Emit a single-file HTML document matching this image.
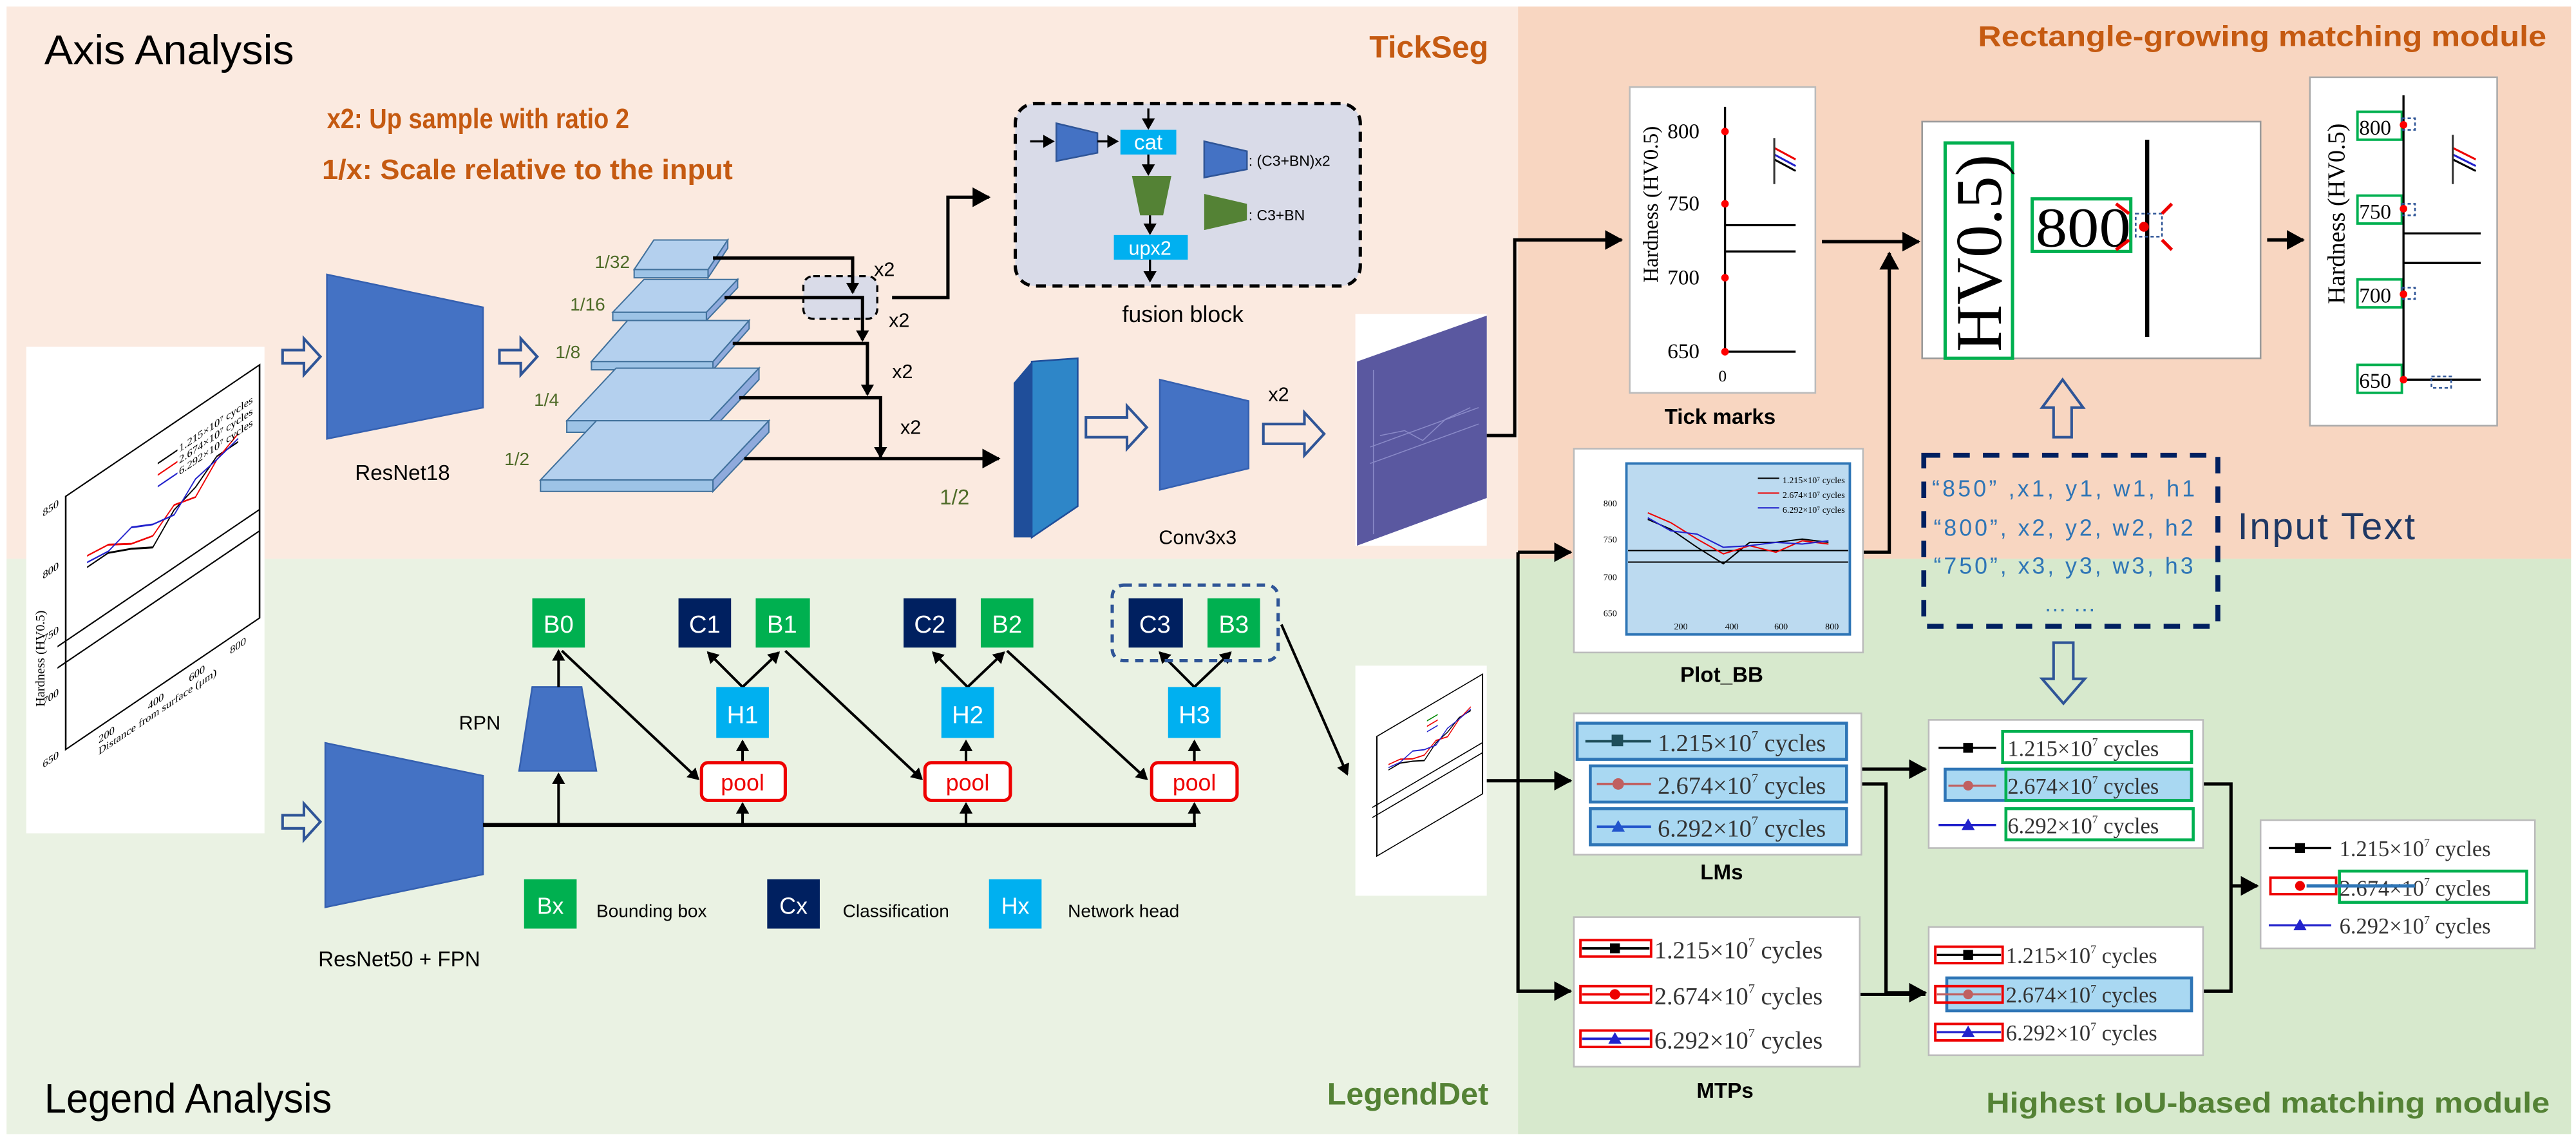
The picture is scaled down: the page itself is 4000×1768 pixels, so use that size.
<!DOCTYPE html>
<html><head><meta charset="utf-8"><style>
html,body{margin:0;padding:0;background:#fff}
svg{display:block}
.t{font-family:"Liberation Sans Narrow","Liberation Sans",sans-serif}
.s{font-family:"Liberation Serif",serif}
.b{font-family:"Liberation Sans",sans-serif;font-weight:bold}
</style></head><body>
<svg width="4000" height="1768" viewBox="0 0 1568 693" preserveAspectRatio="none" xmlns="http://www.w3.org/2000/svg">
<defs>
<marker id="a" markerWidth="8" markerHeight="8" refX="6" refY="4" orient="auto" markerUnits="userSpaceOnUse"><path d="M0,0 L7,4 L0,8 z" fill="#000"/></marker>
<marker id="a2" markerWidth="12" markerHeight="12" refX="10" refY="6" orient="auto" markerUnits="userSpaceOnUse"><path d="M0,0 L11,6 L0,12 z" fill="#000"/></marker>
</defs>
<rect x="0" y="0" width="1568" height="693" fill="#fff"/>
<rect x="4" y="4" width="920" height="336" fill="#fbeae0"/>
<rect x="4" y="340" width="920" height="350" fill="#eaf2e3"/>
<rect x="924" y="4" width="641" height="336" fill="#f8d6c1"/>
<rect x="924" y="340" width="641" height="350" fill="#d7e9cd"/>

<text x="27" y="39" class="t" font-size="25" fill="#000" textLength="152" lengthAdjust="spacingAndGlyphs">Axis Analysis</text>
<text x="906" y="35" class="t" font-size="19" font-weight="bold" fill="#c55a11" text-anchor="end">TickSeg</text>
<text x="199" y="78" class="t" font-size="17" font-weight="bold" fill="#c55a11" textLength="184" lengthAdjust="spacingAndGlyphs">x2:  Up sample with ratio 2</text>
<text x="196" y="109" class="t" font-size="17" font-weight="bold" fill="#c55a11" textLength="250" lengthAdjust="spacingAndGlyphs">1/x:  Scale relative to the input</text>
<text x="27" y="677" class="t" font-size="25" fill="#000" textLength="175" lengthAdjust="spacingAndGlyphs">Legend Analysis</text>
<text x="906" y="672" class="t" font-size="19" font-weight="bold" fill="#548235" text-anchor="end">LegendDet</text>
<text x="1204" y="28" class="b" font-size="17.5" fill="#c55a11" textLength="346" lengthAdjust="spacingAndGlyphs">Rectangle-growing matching module</text>
<text x="1209" y="677" class="b" font-size="17.5" fill="#548235" textLength="343" lengthAdjust="spacingAndGlyphs">Highest IoU-based matching module</text>

<!-- input chart -->
<rect x="16" y="211" width="145" height="296" fill="#fff"/>
<g transform="translate(40,302) matrix(1,-0.678,0,1,0,0)" fill="none" stroke="#000" stroke-width="1">
<rect x="0" y="0" width="118" height="154"/>
<line x1="-5" y1="88" x2="118" y2="88"/>
<line x1="-5" y1="101" x2="118" y2="101"/>
<polyline points="13,52 26,52 40,59 53,67 66,53 79,48 92,38 105,38" stroke="#000"/>
<polyline points="13,45 26,47 40,56 53,60 66,50 79,54 92,40 105,33" stroke="#e00"/>
<polyline points="13,49 26,51 40,46 53,53 66,56 79,43 92,40 105,36" stroke="#22c"/>
<line x1="56" y1="18" x2="68" y2="18"/><line x1="56" y1="25" x2="68" y2="25" stroke="#e00"/><line x1="56" y1="32" x2="68" y2="32" stroke="#22c"/>
<g stroke="none" fill="#000" class="s" font-size="6.5"><text x="69" y="20">1.215×10⁷ cycles</text><text x="69" y="27">2.674×10⁷ cycles</text><text x="69" y="34">6.292×10⁷ cycles</text>
<text x="-14" y="3">850</text><text x="-14" y="41">800</text><text x="-14" y="80">750</text><text x="-14" y="118">700</text><text x="-14" y="156">650</text>
<text x="20" y="164">200</text><text x="50" y="164">400</text><text x="75" y="164">600</text><text x="100" y="164">800</text>
<text x="20" y="171">Distance from surface (μm)</text></g>
</g>
<text transform="translate(27,430) rotate(-90)" class="s" font-size="8" fill="#000">Hardness (HV0.5)</text>

<g fill="none" stroke="#2f5597" stroke-width="1.6">
<path d="M172,213 h13 v-7 l10,11 l-10,11 v-7 h-13 z"/>
<path d="M304,213 h13 v-7 l10,11 l-10,11 v-7 h-13 z"/>
<path d="M661,254 h25 v-7 l12,13 l-12,13 v-7 h-25 z"/>
<path d="M769,258 h25 v-7 l12,13 l-12,13 v-7 h-25 z"/>
<path d="M172,496 h13 v-7 l10,11 l-10,11 v-7 h-13 z"/>
<path d="M1250,266 v-18 h-7 l12.5,-17 l12.5,17 h-7 v18 z"/>
<path d="M1250,391 v22 h-7 l13,15 l13,-15 h-7 v-22 z"/>
</g>

<polygon points="199,167 294,187 294,248 199,267" fill="#4472c4" stroke="#3560b0"/>
<text x="245" y="292" class="t" font-size="13" text-anchor="middle">ResNet18</text>

<g stroke="#41719c" stroke-width="0.8">
<polygon points="386,164 431,164 443,146 398,146" fill="#b4d0ee"/><rect x="386" y="164" width="45" height="5" fill="#9dc3e6"/><polygon points="431,169 431,164 443,146 443,151" fill="#8faadc"/>
<polygon points="373,190 430,190 449,170 392,170" fill="#b4d0ee"/><rect x="373" y="190" width="57" height="5" fill="#9dc3e6"/><polygon points="430,195 430,190 449,170 449,175" fill="#8faadc"/>
<polygon points="360,220 434,220 456,195 382,195" fill="#b4d0ee"/><rect x="360" y="220" width="74" height="5" fill="#9dc3e6"/><polygon points="434,225 434,220 456,195 456,200" fill="#8faadc"/>
<polygon points="345,256 432,256 462,224 375,224" fill="#b4d0ee"/><rect x="345" y="256" width="87" height="7" fill="#9dc3e6"/><polygon points="432,263 432,256 462,224 462,231" fill="#8faadc"/>
<polygon points="329,292 434,292 468,256 363,256" fill="#b4d0ee"/><rect x="329" y="292" width="105" height="7" fill="#9dc3e6"/><polygon points="434,299 434,292 468,256 468,263" fill="#8faadc"/>
</g>
<g class="t" font-size="11" fill="#4e6b28">
<text x="362" y="163">1/32</text><text x="347" y="189">1/16</text><text x="338" y="218">1/8</text><text x="325" y="247">1/4</text><text x="307" y="283">1/2</text>
<text x="572" y="307" font-size="13">1/2</text></g>

<rect x="489" y="168" width="45" height="26" rx="6" fill="#d9dbe8" stroke="#000" stroke-width="1.3" stroke-dasharray="4,3"/>
<g stroke="#000" stroke-width="2" fill="none">
<polyline points="434,157 519,157 519,178" marker-end="url(#a)"/>
<polyline points="441,181 525,181 525,207" marker-end="url(#a)"/>
<polyline points="446,209 528,209 528,240" marker-end="url(#a)"/>
<polyline points="450,242 536,242 536,278" marker-end="url(#a)"/>
<polyline points="453,279 608,279" marker-end="url(#a2)"/>
<polyline points="543,181 577,181 577,120 602,120" marker-end="url(#a2)"/>
</g>
<g class="t" font-size="12"><text x="532" y="168">x2</text><text x="541" y="199">x2</text><text x="543" y="230">x2</text><text x="548" y="264">x2</text><text x="772" y="244">x2</text></g>

<rect x="618" y="63" width="210" height="111" rx="12" fill="#d9dbe8" stroke="#000" stroke-width="2" stroke-dasharray="6,4"/>
<polygon points="643,75 668,81 668,93 643,98" fill="#4472c4" stroke="#2f5597"/>
<rect x="682" y="79" width="34" height="15" fill="#00b0f0"/>
<text x="699" y="91" class="t" font-size="13" fill="#fff" text-anchor="middle">cat</text>
<polygon points="689,107 713,107 708,131 694,131" fill="#548235"/>
<rect x="678" y="143" width="45" height="15" fill="#00b0f0"/>
<text x="700" y="155" class="t" font-size="12" fill="#fff" text-anchor="middle">upx2</text>
<polygon points="733,86 759,92 759,103 733,108" fill="#4472c4" stroke="#2f5597"/>
<polygon points="733,118 759,124 759,134 733,140" fill="#548235"/>
<text x="760" y="101" class="t" font-size="9">: (C3+BN)x2</text>
<text x="760" y="134" class="t" font-size="9">: C3+BN</text>
<g stroke="#000" stroke-width="1.3" fill="none">
<line x1="627" y1="86" x2="641" y2="86" marker-end="url(#a)"/>
<line x1="668" y1="86" x2="680" y2="86" marker-end="url(#a)"/>
<line x1="699" y1="66" x2="699" y2="78" marker-end="url(#a)"/>
<line x1="699" y1="94" x2="699" y2="106" marker-end="url(#a)"/>
<line x1="700" y1="131" x2="700" y2="142" marker-end="url(#a)"/>
<line x1="700" y1="158" x2="700" y2="171" marker-end="url(#a)"/>
</g>
<text x="720" y="196" class="t" font-size="14" text-anchor="middle">fusion block</text>

<polygon points="617,233 628,220 628,327 617,327" fill="#1f4e9a"/>
<polygon points="628,220 656,218 656,308 628,327" fill="#2e86c8" stroke="#1f4e9a"/>
<polygon points="706,231 760,244 760,285 706,298" fill="#4472c4" stroke="#3560b0"/>
<text x="729" y="331" class="t" font-size="12" text-anchor="middle">Conv3x3</text>

<rect x="825" y="191" width="80" height="141" fill="#fff"/>
<polygon points="826,220 905,192 905,303 826,332" fill="#5a58a0"/>
<g stroke="#8a8ac8" stroke-width="0.6" fill="none">
<line x1="834" y1="272" x2="900" y2="248"/><line x1="834" y1="282" x2="900" y2="258"/><polyline points="840,265 855,262 866,268 880,255 895,248"/>
<line x1="836" y1="225" x2="836" y2="325"/>
</g>
<polyline points="905,265 922,265 922,146 987,146" fill="none" stroke="#000" stroke-width="2" marker-end="url(#a2)"/>

<polygon points="198,452 294,472 294,532 198,552" fill="#4472c4" stroke="#3560b0"/>
<text x="243" y="588" class="t" font-size="13" text-anchor="middle">ResNet50 + FPN</text>
<polygon points="324,418 354,418 363,469 316,469" fill="#4472c4" stroke="#3560b0"/>
<text x="292" y="444" class="t" font-size="12" text-anchor="middle">RPN</text>
<g stroke="#000" stroke-width="1.6" fill="none">
<line x1="294" y1="502" x2="728" y2="502" stroke-width="2.6"/>
<line x1="340" y1="502" x2="340" y2="471" marker-end="url(#a)"/>
<line x1="452" y1="502" x2="452" y2="489" marker-end="url(#a)"/>
<line x1="588" y1="502" x2="588" y2="489" marker-end="url(#a)"/>
<line x1="727" y1="502" x2="727" y2="489" marker-end="url(#a)"/>
<line x1="340" y1="418" x2="340" y2="396" marker-end="url(#a)"/>
<line x1="452" y1="464" x2="452" y2="451" marker-end="url(#a)"/>
<line x1="588" y1="464" x2="588" y2="451" marker-end="url(#a)"/>
<line x1="727" y1="464" x2="727" y2="451" marker-end="url(#a)"/>
<line x1="342" y1="396" x2="425" y2="474" marker-end="url(#a)"/>
<line x1="478" y1="396" x2="561" y2="474" marker-end="url(#a)"/>
<line x1="613" y1="396" x2="698" y2="474" marker-end="url(#a)"/>
<line x1="452" y1="418" x2="431" y2="397" marker-end="url(#a)"/><line x1="452" y1="418" x2="474" y2="397" marker-end="url(#a)"/>
<line x1="589" y1="418" x2="568" y2="397" marker-end="url(#a)"/><line x1="589" y1="418" x2="611" y2="397" marker-end="url(#a)"/>
<line x1="727" y1="418" x2="706" y2="397" marker-end="url(#a)"/><line x1="727" y1="418" x2="749" y2="397" marker-end="url(#a)"/>
<line x1="780" y1="380" x2="820" y2="471" marker-end="url(#a)"/>
</g>
<rect x="677" y="356" width="101" height="46" rx="7" fill="none" stroke="#2f5597" stroke-width="2" stroke-dasharray="5,4"/>
<g class="t" font-size="15" text-anchor="middle" fill="#fff">
<rect x="324" y="364" width="32" height="30" fill="#00b050"/><text x="340" y="385">B0</text>
<rect x="413" y="364" width="32" height="30" fill="#002060"/><text x="429" y="385">C1</text>
<rect x="460" y="364" width="33" height="30" fill="#00b050"/><text x="476" y="385">B1</text>
<rect x="550" y="364" width="32" height="30" fill="#002060"/><text x="566" y="385">C2</text>
<rect x="597" y="364" width="32" height="30" fill="#00b050"/><text x="613" y="385">B2</text>
<rect x="687" y="364" width="33" height="30" fill="#002060"/><text x="703" y="385">C3</text>
<rect x="735" y="364" width="32" height="30" fill="#00b050"/><text x="751" y="385">B3</text>
<rect x="436" y="418" width="32" height="31" fill="#00b0f0"/><text x="452" y="440">H1</text>
<rect x="573" y="418" width="32" height="31" fill="#00b0f0"/><text x="589" y="440">H2</text>
<rect x="711" y="418" width="32" height="31" fill="#00b0f0"/><text x="727" y="440">H3</text>
</g>
<g class="t" font-size="14" text-anchor="middle" fill="#e00">
<rect x="427" y="464" width="51" height="23" rx="4" fill="#fff" stroke="#e00" stroke-width="2"/><text x="452" y="481">pool</text>
<rect x="563" y="464" width="52" height="23" rx="4" fill="#fff" stroke="#e00" stroke-width="2"/><text x="589" y="481">pool</text>
<rect x="701" y="464" width="52" height="23" rx="4" fill="#fff" stroke="#e00" stroke-width="2"/><text x="727" y="481">pool</text>
</g>
<g class="t" font-size="14">
<rect x="319" y="535" width="32" height="30" fill="#00b050"/><text x="335" y="556" fill="#fff" text-anchor="middle">Bx</text>
<text x="363" y="558" font-size="11">Bounding box</text>
<rect x="467" y="535" width="32" height="30" fill="#002060"/><text x="483" y="556" fill="#fff" text-anchor="middle">Cx</text>
<text x="513" y="558" font-size="11">Classification</text>
<rect x="602" y="535" width="32" height="30" fill="#00b0f0"/><text x="618" y="556" fill="#fff" text-anchor="middle">Hx</text>
<text x="650" y="558" font-size="11">Network head</text>
</g>

<rect x="825" y="405" width="80" height="140" fill="#fff"/>
<g transform="translate(825,405) scale(0.545,0.473) translate(-16,-211)">
<g transform="translate(40,302) matrix(1,-0.678,0,1,0,0)" fill="none" stroke="#000" stroke-width="1.5">
<rect x="0" y="0" width="118" height="154"/>
<line x1="-5" y1="88" x2="118" y2="88"/><line x1="-5" y1="101" x2="118" y2="101"/>
<polyline points="13,52 26,52 40,59 53,67 66,53 79,48 92,38 105,38"/>
<polyline points="13,45 26,47 40,56 53,60 66,50 79,54 92,40 105,33" stroke="#e00"/>
<polyline points="13,49 26,51 40,46 53,53 66,56 79,43 92,40 105,36" stroke="#22c"/>
<line x1="56" y1="18" x2="68" y2="18" stroke="#080"/><line x1="56" y1="25" x2="68" y2="25" stroke="#e00"/><line x1="56" y1="32" x2="68" y2="32" stroke="#22c"/>
</g></g>

<g stroke="#000" stroke-width="2" fill="none">
<polyline points="905,475 924,475"/>
<polyline points="924,336 924,604"/>
<line x1="924" y1="336" x2="956" y2="336" marker-end="url(#a2)"/>
<line x1="924" y1="475" x2="956" y2="475" marker-end="url(#a2)"/>
<line x1="924" y1="603" x2="956" y2="603" marker-end="url(#a2)"/>
<line x1="1109" y1="147" x2="1168" y2="147" marker-end="url(#a2)"/>
<polyline points="1134,336 1150,336 1150,154" marker-end="url(#a2)"/>
<line x1="1380" y1="146" x2="1402" y2="146" marker-end="url(#a2)"/>
<line x1="1133" y1="468" x2="1172" y2="468" marker-end="url(#a2)"/>
<polyline points="1133,477 1148,477 1148,604 1172,604" marker-end="url(#a2)"/>
<line x1="1132" y1="605" x2="1172" y2="605"/>
<polyline points="1341,477 1358,477 1358,603 1341,603"/>
<line x1="1358" y1="539" x2="1374" y2="539" marker-end="url(#a2)"/>
</g>

<rect x="992" y="53" width="113" height="186" fill="#fff" stroke="#bbb"/>
<g class="s" font-size="13">
<text transform="translate(1009,172) rotate(-90)" font-size="13">Hardness (HV0.5)</text>
<text x="1015" y="84">800</text><text x="1015" y="128">750</text><text x="1015" y="173">700</text><text x="1015" y="218">650</text><text x="1046" y="232" font-size="10">0</text>
</g>
<g stroke="#000" stroke-width="1.3"><line x1="1050" y1="65" x2="1050" y2="214"/><line x1="1050" y1="214" x2="1093" y2="214"/><line x1="1050" y1="137" x2="1093" y2="137"/><line x1="1050" y1="153" x2="1093" y2="153"/></g>
<g fill="#f00"><circle cx="1050" cy="80" r="2.3"/><circle cx="1050" cy="124" r="2.3"/><circle cx="1050" cy="169" r="2.3"/><circle cx="1050" cy="214" r="2.3"/></g>
<g stroke-width="1.2" fill="none"><polyline points="1080,90 1093,97" stroke="#e00"/><polyline points="1080,94 1093,101" stroke="#22c"/><polyline points="1080,97 1093,104" stroke="#000"/><line x1="1080" y1="84" x2="1080" y2="112" stroke="#333"/></g>
<text x="1047" y="258" class="b" font-size="13" text-anchor="middle">Tick marks</text>

<rect x="958" y="273" width="176" height="124" fill="#fff" stroke="#bbb"/>
<rect x="990" y="282" width="136" height="104" fill="#bcdaf0" stroke="#2e75b6" stroke-width="1.5"/>
<g class="s" font-size="5.5"><text x="976" y="308">800</text><text x="976" y="330">750</text><text x="976" y="353">700</text><text x="976" y="375">650</text>
<text x="1019" y="383">200</text><text x="1050" y="383">400</text><text x="1080" y="383">600</text><text x="1111" y="383">800</text>
<text x="1085" y="294">1.215×10⁷ cycles</text><text x="1085" y="303">2.674×10⁷ cycles</text><text x="1085" y="312">6.292×10⁷ cycles</text></g>
<g fill="none" stroke-width="0.8"><line x1="991" y1="335" x2="1125" y2="335" stroke="#000"/><line x1="991" y1="342" x2="1125" y2="342" stroke="#000"/>
<polyline points="1003,316 1017,322 1033,333 1049,343 1065,330 1081,330 1097,328 1113,330" stroke="#000"/>
<polyline points="1003,312 1017,318 1033,328 1049,337 1065,332 1081,336 1097,329 1113,331" stroke="#e00"/>
<polyline points="1003,315 1017,323 1033,325 1049,333 1065,332 1081,330 1097,331 1113,329" stroke="#22c"/>
<line x1="1070" y1="291" x2="1083" y2="291" stroke="#000"/><line x1="1070" y1="300" x2="1083" y2="300" stroke="#e00"/><line x1="1070" y1="309" x2="1083" y2="309" stroke="#22c"/></g>
<text x="1048" y="415" class="b" font-size="13" text-anchor="middle">Plot_BB</text>

<rect x="1170" y="74" width="206" height="144" fill="#fff" stroke="#999"/>
<rect x="1184" y="87" width="41" height="131" fill="none" stroke="#00b050" stroke-width="2"/>
<text transform="translate(1218,214) rotate(-90)" class="s" font-size="40" textLength="120" lengthAdjust="spacingAndGlyphs">HV0.5)</text>
<rect x="1237" y="121" width="60" height="32" fill="none" stroke="#00b050" stroke-width="2"/>
<text x="1239" y="150" class="s" font-size="34" textLength="58" lengthAdjust="spacingAndGlyphs">800</text>
<line x1="1307" y1="85" x2="1307" y2="205" stroke="#000" stroke-width="2.5"/>
<rect x="1300" y="130" width="16" height="14" fill="none" stroke="#2f5597" stroke-dasharray="2,1.5"/>
<circle cx="1305" cy="138" r="3" fill="#e00"/>
<g stroke="#e00" stroke-width="2"><line x1="1296" y1="130" x2="1288" y2="124"/><line x1="1296" y1="146" x2="1288" y2="152"/><line x1="1316" y1="130" x2="1322" y2="124"/><line x1="1316" y1="146" x2="1322" y2="152"/></g>

<rect x="1406" y="47" width="114" height="212" fill="#fff" stroke="#aaa"/>
<text transform="translate(1427,185) rotate(-90)" class="s" font-size="15">Hardness (HV0.5)</text>
<g class="s" font-size="13"><text x="1436" y="82">800</text><text x="1436" y="133">750</text><text x="1436" y="184">700</text><text x="1436" y="236">650</text></g>
<g fill="none" stroke="#00b050" stroke-width="1.5"><rect x="1435" y="68" width="27" height="17"/><rect x="1435" y="119" width="27" height="17"/><rect x="1435" y="170" width="27" height="17"/><rect x="1435" y="222" width="27" height="17"/></g>
<g stroke="#000" stroke-width="1.3"><line x1="1463" y1="58" x2="1463" y2="232"/><line x1="1463" y1="231" x2="1510" y2="231"/><line x1="1463" y1="142" x2="1510" y2="142"/><line x1="1463" y1="160" x2="1510" y2="160"/></g>
<g fill="none" stroke="#2f5597" stroke-dasharray="2,1.5"><rect x="1462" y="72" width="8" height="7"/><rect x="1462" y="124" width="8" height="7"/><rect x="1462" y="175" width="8" height="7"/><rect x="1480" y="229" width="12" height="7"/></g>
<g fill="#f00"><circle cx="1463" cy="76" r="2.3"/><circle cx="1463" cy="127" r="2.3"/><circle cx="1463" cy="179" r="2.3"/><circle cx="1463" cy="231" r="2.3"/></g>
<g stroke-width="1.2" fill="none"><polyline points="1493,90 1507,97" stroke="#e00"/><polyline points="1493,94 1507,101" stroke="#22c"/><polyline points="1493,97 1507,104" stroke="#000"/><line x1="1493" y1="82" x2="1493" y2="112" stroke="#333"/></g>

<rect x="1171" y="277" width="179" height="104" fill="none" stroke="#002060" stroke-width="3" stroke-dasharray="10,8"/>
<g font-family="Liberation Sans, sans-serif" font-size="14" fill="#2e75b6">
<text x="1176" y="302" textLength="160">“850” ,x1, y1, w1, h1</text>
<text x="1177" y="326" textLength="158">“800”, x2, y2, w2, h2</text>
<text x="1177" y="349" textLength="158">“750”, x3, y3, w3, h3</text>
<text x="1244" y="372">… …</text></g>
<text x="1362" y="328" font-family="Liberation Sans, sans-serif" font-size="23" fill="#1f3864" textLength="108">Input Text</text>

<rect x="958" y="434" width="175" height="86" fill="#fff" stroke="#bbb"/>
<g fill="#a9d8f2" stroke="#2e75b6" stroke-width="1.8"><rect x="960" y="440" width="164" height="22"/><rect x="968" y="466" width="156" height="22"/><rect x="968" y="492" width="156" height="22"/></g>
<g stroke-width="1.5"><line x1="965" y1="451" x2="1005" y2="451" stroke="#1f4e5a"/><line x1="972" y1="477" x2="1005" y2="477" stroke="#c06060"/><line x1="972" y1="503" x2="1005" y2="503" stroke="#2255cc"/></g>
<rect x="981" y="447" width="7" height="7" fill="#1f4e5a"/><circle cx="985" cy="477" r="3.5" fill="#c06060"/><polygon points="985,499 989,506 981,506" fill="#2255cc"/>
<g class="s" font-size="15" fill="#333"><text x="1009" y="457">1.215×10<tspan font-size="8" dy="-7">7</tspan><tspan dy="7"> cycles</tspan></text>
<text x="1009" y="483">2.674×10<tspan font-size="8" dy="-7">7</tspan><tspan dy="7"> cycles</tspan></text>
<text x="1009" y="509">6.292×10<tspan font-size="8" dy="-7">7</tspan><tspan dy="7"> cycles</tspan></text></g>
<text x="1048" y="535" class="b" font-size="13" text-anchor="middle">LMs</text>

<rect x="958" y="558" width="174" height="91" fill="#fff" stroke="#bbb"/>
<g fill="none" stroke="#e00" stroke-width="1.5"><rect x="962" y="572" width="43" height="10"/><rect x="962" y="600" width="43" height="10"/><rect x="962" y="627" width="43" height="10"/></g>
<g stroke-width="1.5"><line x1="963" y1="577" x2="1004" y2="577" stroke="#000"/><line x1="963" y1="605" x2="1004" y2="605" stroke="#e00"/><line x1="963" y1="632" x2="1004" y2="632" stroke="#22c"/></g>
<rect x="980" y="574" width="6" height="6" fill="#000"/><circle cx="983" cy="605" r="3.2" fill="#e00"/><polygon points="983,628 987,635 979,635" fill="#22c"/>
<g class="s" font-size="15" fill="#333"><text x="1007" y="583">1.215×10<tspan font-size="8" dy="-7">7</tspan><tspan dy="7"> cycles</tspan></text>
<text x="1007" y="611">2.674×10<tspan font-size="8" dy="-7">7</tspan><tspan dy="7"> cycles</tspan></text>
<text x="1007" y="638">6.292×10<tspan font-size="8" dy="-7">7</tspan><tspan dy="7"> cycles</tspan></text></g>
<text x="1050" y="668" class="b" font-size="13" text-anchor="middle">MTPs</text>

<rect x="1174" y="438" width="167" height="78" fill="#fff" stroke="#bbb"/>
<rect x="1184" y="468" width="150" height="19" fill="#a9d8f2" stroke="#2e75b6" stroke-width="1.8"/>
<g fill="none" stroke="#00b050" stroke-width="1.8"><rect x="1219" y="445" width="115" height="19"/><rect x="1221" y="468" width="113" height="19"/><rect x="1221" y="492" width="114" height="19"/></g>
<g stroke-width="1.3"><line x1="1180" y1="455" x2="1215" y2="455" stroke="#000"/><line x1="1186" y1="478" x2="1215" y2="478" stroke="#c06060"/><line x1="1180" y1="502" x2="1215" y2="502" stroke="#22c"/></g>
<rect x="1195" y="452" width="6" height="6" fill="#000"/><circle cx="1198" cy="478" r="3" fill="#c06060"/><polygon points="1198,498 1202,505 1194,505" fill="#22c"/>
<g class="s" font-size="13.5" fill="#333"><text x="1222" y="460">1.215×10<tspan font-size="7" dy="-6">7</tspan><tspan dy="6"> cycles</tspan></text>
<text x="1222" y="483">2.674×10<tspan font-size="7" dy="-6">7</tspan><tspan dy="6"> cycles</tspan></text>
<text x="1222" y="507">6.292×10<tspan font-size="7" dy="-6">7</tspan><tspan dy="6"> cycles</tspan></text></g>

<rect x="1174" y="564" width="167" height="78" fill="#fff" stroke="#bbb"/>
<rect x="1185" y="595" width="149" height="20" fill="#a9d8f2" stroke="#2e75b6" stroke-width="1.8"/>
<g fill="none" stroke="#e00" stroke-width="1.5"><rect x="1178" y="576" width="41" height="10"/><rect x="1178" y="600" width="41" height="10"/><rect x="1178" y="623" width="41" height="10"/></g>
<g stroke-width="1.3"><line x1="1179" y1="581" x2="1218" y2="581" stroke="#000"/><line x1="1179" y1="605" x2="1218" y2="605" stroke="#c06060"/><line x1="1179" y1="628" x2="1218" y2="628" stroke="#22c"/></g>
<rect x="1195" y="578" width="6" height="6" fill="#000"/><circle cx="1198" cy="605" r="3" fill="#c06060"/><polygon points="1198,624 1202,631 1194,631" fill="#22c"/>
<g class="s" font-size="13.5" fill="#333"><text x="1221" y="586">1.215×10<tspan font-size="7" dy="-6">7</tspan><tspan dy="6"> cycles</tspan></text>
<text x="1221" y="610">2.674×10<tspan font-size="7" dy="-6">7</tspan><tspan dy="6"> cycles</tspan></text>
<text x="1221" y="633">6.292×10<tspan font-size="7" dy="-6">7</tspan><tspan dy="6"> cycles</tspan></text></g>

<rect x="1376" y="499" width="167" height="78" fill="#fff" stroke="#bbb"/>
<rect x="1382" y="534" width="40" height="10" fill="none" stroke="#e00" stroke-width="1.5"/>
<rect x="1424" y="530" width="114" height="19" fill="none" stroke="#00b050" stroke-width="1.8"/>
<g stroke-width="1.3"><line x1="1381" y1="516" x2="1419" y2="516" stroke="#000"/><line x1="1381" y1="563" x2="1419" y2="563" stroke="#22c"/></g>
<rect x="1397" y="513" width="6" height="6" fill="#000"/><circle cx="1400" cy="539" r="3" fill="#e00"/><polygon points="1400,559 1404,566 1396,566" fill="#22c"/>
<g class="s" font-size="13.5" fill="#333"><text x="1424" y="521">1.215×10<tspan font-size="7" dy="-6">7</tspan><tspan dy="6"> cycles</tspan></text>
<text x="1424" y="545">2.674×10<tspan font-size="7" dy="-6">7</tspan><tspan dy="6"> cycles</tspan></text>
<text x="1424" y="568">6.292×10<tspan font-size="7" dy="-6">7</tspan><tspan dy="6"> cycles</tspan></text></g>
<line x1="1404" y1="539" x2="1470" y2="539" stroke="#2e75b6" stroke-width="2"/>
</svg>
</body></html>
